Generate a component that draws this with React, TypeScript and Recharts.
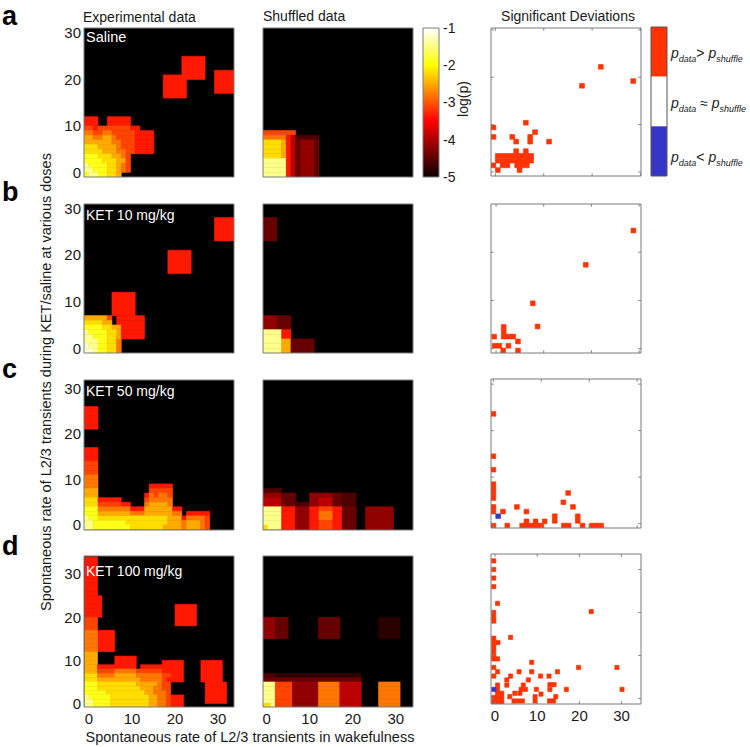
import React from 'react';
import { ComposedChart, XAxis, YAxis, ReferenceArea, ReferenceLine } from 'recharts';

const FONT = '"Liberation Sans", Arial, Helvetica, sans-serif';

// log(p) levels, coded by one letter each ('.' = below -5, black)
const LEVEL_CODES = 'hkedDmrRoOyYWw';
const LEVEL_VALUES = [-4.8, -4.6, -4.45, -4.2, -3.95, -3.7, -3.35, -3.1, -2.8, -2.5, -2.2, -1.9, -1.45, -1.2];

const AXIS_TICKS = [0, 10, 20, 30];
const CBAR_TICKS = [-1, -2, -3, -4, -5];
const CBAR_STOPS = [-1, -2, -3.5, -5];

// ---------- Experimental data (rows listed from top bin downwards, first char = bin x0) ----------
const EXP_SALINE_X0 = -1;
const EXP_SALINE_YTOP = 11;
const EXP_SALINE_ROWS = [
  'rrr..rrrrr',
  'rrr..rrrrr',
  'RRrRRRRRRRrr',
  'ooRRooRRRRRrrrr',
  'OOooOOoRRRRrrrr',
  'OOOOOOooRRRrrrr',
  'yyyOOOOoRRRrrrr',
  'yyyyOOOooRRrrrr',
  'YYYyyyOOoR',
  'YYYYyyyOOR',
  'WYYYYyyOoR',
  'WWYYYyyOoR',
  'YWWYYyyO',
];
const EXP_SALINE_BLOCKS: [number, number, number, number, string][] = [
  [16, 16, 5, 5, 'r'], [20, 20, 5, 5, 'r'], [27, 17, 5, 5, 'r'],
];

const EXP_K10_X0 = -1;
const EXP_K10_YTOP = 6;
const EXP_K10_ROWS = [
  'OOOOOR.rrrrrr',
  'yyyyOO.rrrrrr',
  'YYYYyyOOrrrrr',
  'WYYYYyyOrrrrr',
  'WWYYYyyOrrrrr',
  'WWWYYyyo',
  'wWWYYyyo',
  'wwWYYyyo',
];
const EXP_K10_BLOCKS: [number, number, number, number, string][] = [
  [5, 7, 5, 5, 'r'], [17, 16, 5, 5, 'r'], [27, 23, 5, 5, 'r'],
];

const EXP_K50_X0 = -1;
const EXP_K50_YTOP = 25;
const EXP_K50_ROWS = [
  'rrr', 'rrr', 'rrr', 'rrr', 'rrr',
  '', '', '', '',
  'rrr', 'rrr', 'rrr',
  'RRR', 'RRR', 'RRR',
  'ooo', 'ooo',
  'ooo' + '...........' + 'rrrrr',
  'OOO' + '...........' + 'RRRRR',
  'OOO' + '..........' + 'r' + 'oRooR',
  'yyy' + 'rrrrr' + '.....' + 'R' + 'ooooo',
  'yyy' + 'RRRRR' + 'rr' + '...' + 'o' + 'OOOOo',
  'YYY' + 'ooooo' + 'oo' + 'rrr' + 'O' + 'OOOOO' + 'rr',
  'YYY' + 'OOOOO' + 'OO' + 'ooo' + 'O' + 'OOOOO' + 'oo' + '.' + 'rrrrr',
  'WYY' + 'yyyyy' + 'yy' + 'yyy' + 'y' + 'yyyyO' + 'OO' + 'r' + 'ooooR',
  'WWY' + 'YYYYY' + 'Yy' + 'yyy' + 'y' + 'yyyyO' + 'OO' + 'o' + 'OOOoR',
  'WWY' + 'YYYYY' + 'YY' + 'yyy' + 'y' + 'yyyOO' + 'OO' + 'o' + 'OOOoR',
];
const EXP_K50_BLOCKS: [number, number, number, number, string][] = [];

const EXP_K100_X0 = -1;
const EXP_K100_YTOP = 33;
const EXP_K100_ROWS = [
  'rrr', 'rrr', 'rrr', 'rrr', 'rrr', 'rrr', 'rrr', 'rrr', 'rrr',
  'rrrr', 'rrrr', 'rrrr', 'rrrr', 'rrrr',
  'RRR', 'RRR', 'RRR',
  'ooo', 'ooo', 'ooo', 'ooo', 'ooo',
  'OOO', 'OOO', 'OOO',
  'OOO' + 'rrrr',
  'OOO' + 'RRRR' + 'ooooo' + 'R' + 'RRRRR' + 'rr',
  'yyy' + 'oooo' + 'OOOOO' + 'o' + 'ooooo' + 'RR',
  'yyy' + 'OOOO' + 'OOOOO' + 'O' + 'ooooo' + 'Rr',
  'YYY' + 'yyyy' + 'yyyyy' + 'O' + 'OOOOo' + 'RR',
  'YYY' + 'yyyy' + 'yyyyy' + 'y' + 'OOOoo' + 'RR',
  'YYY' + 'YYyy' + 'yyyyy' + 'y' + 'yOOoo' + 'oR',
  'WYY' + 'YYYy' + 'yyyyy' + 'y' + 'yyOOo' + 'oR',
  'WWY' + 'YYYy' + 'yyyyy' + 'y' + 'yyOOo' + 'oR',
  'WWY' + 'YYYy' + 'yyyyy' + 'y' + 'yyOOo' + 'oR',
];
const EXP_K100_BLOCKS: [number, number, number, number, string][] = [
  [2, 12, 4, 5, 'r'], [6, 8, 5, 3, 'r'], [12, 8, 5, 1, 'r'], [17, 5, 5, 5, 'r'],
  [20, 18, 5, 5, 'r'], [26, 5, 5, 5, 'r'], [27, 0, 5, 5, 'r'], [19, -1, 3, 3, 'r'],
];

// ---------- Shuffled data ----------
const SHUF_SALINE_X0 = -1;
const SHUF_SALINE_YTOP = 8;
const SHUF_SALINE_ROWS = [
  'RRRRRRR',
  'ooooorD' + 'kkkkk',
  'yyyyOrD' + 'eddde',
  'yyyyOrD' + 'eddde',
  'yyyyOrD' + 'eddde',
  'yyyyOrD' + 'eddde',
  'WWWWWrD' + 'eddde',
  'WWWWWrD' + 'eddde',
  'WWWWWrD' + 'eddde',
  'WWWWWrD' + 'eddde',
];

const SHUF_K10_X0 = -1;
const SHUF_K10_YTOP = 27;
const SHUF_K10_ROWS = [
  'eee', 'eee', 'eee', 'eee', 'eee',
  '', '', '', '', '', '', '', '', '', '', '', '', '', '', '', '',
  'dddeee', 'dddeee', 'dddeee',
  'WWWWrr', 'WWWWrr',
  'WWWWOOeeeee', 'WWWWOOeeeee', 'WWWWOOeeeee',
];

const SHUF_K50_X0 = -1;
const SHUF_K50_YTOP = 7;
const SHUF_K50_ROWS = [
  'kkkk',
  'dddd' + 'eee' + '...' + 'dd' + 'ddd' + 'ee' + 'kkk',
  'DDDD' + 'eee' + '...' + 'dd' + 'DDD' + 'ee' + 'kkk',
  'DDDD' + 'eee' + 'kkk' + 'dd' + 'DDD' + 'ee' + 'kkk',
  'WWWW' + 'rrr' + 'ddd' + 'rr' + 'RRR' + 'rr' + 'eee' + '..' + 'dddddd',
  'WWWW' + 'rrr' + 'ddd' + 'rr' + 'ooo' + 'rr' + 'eee' + '..' + 'dddddd',
  'WWWW' + 'rrr' + 'ddd' + 'rr' + 'ooo' + 'rr' + 'eee' + '..' + 'dddddd',
  'WWWW' + 'rrr' + 'ddd' + 'rr' + 'RRR' + 'rr' + 'eee' + '..' + 'dddddd',
  'yWWW' + 'rrr' + 'ddd' + 'rr' + 'RRR' + 'rr' + 'eee' + '..' + 'dddddd',
];

const SHUF_K100_X0 = -1;
const SHUF_K100_YTOP = 19;
const SHUF_K100_ROWS = [
  'ddd' + 'eee.' + '......' + 'eeeee' + '.....' + '....' + 'hhhhh',
  'ddd' + 'eee.' + '......' + 'eeeee' + '.....' + '....' + 'hhhhh',
  'ddd' + 'eee.' + '......' + 'eeeee' + '.....' + '....' + 'hhhhh',
  'ddd' + 'eee.' + '......' + 'eeeee' + '.....' + '....' + 'hhhhh',
  'ddd' + 'eee.' + '......' + 'eeeee' + '.....' + '....' + 'hhhhh',
  '', '', '', '', '', '', '', '',
  'kkk' + 'hhhh' + 'hhhhhh' + 'hhhhh' + 'hhhhh',
  'eee' + 'eeee' + 'eeeeee' + 'eeeee' + 'eeeee',
  'WWW' + 'RRRR' + 'dddddd' + 'ooooo' + 'DDDDD' + '....' + 'ooooo',
  'WWW' + 'RRRR' + 'dddddd' + 'ooooo' + 'DDDDD' + '....' + 'ooooo',
  'WWW' + 'RRRR' + 'dddddd' + 'ooooo' + 'DDDDD' + '....' + 'ooooo',
  'WWW' + 'RRRR' + 'dddddd' + 'ooooo' + 'DDDDD' + '....' + 'ooooo',
  'WWW' + 'RRRR' + 'dddddd' + 'ooooo' + 'DDDDD' + '....' + 'ooooo',
  'yyW' + 'RRRR' + 'dddddd' + 'ooooo' + 'DDDDD' + '....' + 'ooooo',
];

// ---------- Significant deviations (bin centres) ----------
const SIG_SALINE_UP = [
  [21.8, 22.2], [17.9, 18.2], [28.5, 19.2], [-0.4, 9.4], [-0.4, 7.4], [6.3, 10.4], [3.5, 7.4],
  [4.3, 6.4], [7.2, 7.4], [7.2, 6.4], [8.2, 8.4], [11.1, 6.4], [4.3, 4.4], [6.3, 4.4],
  [0.5, 3.4], [1.5, 3.4], [2.5, 3.4], [3.5, 3.4], [4.5, 3.4], [5.5, 3.4], [6.5, 3.4], [7.4, 3.4],
  [0.5, 2.4], [1.5, 2.4], [2.5, 2.4], [3.5, 2.4], [4.5, 2.4], [5.5, 2.4], [6.5, 2.4], [7.4, 2.4],
  [-0.4, 1.4], [1.5, 1.4], [2.5, 1.4], [4.5, 1.4], [5.5, 1.4], [6.5, 1.4],
  [0.5, 0.4], [5.0, 0.4],
];
const SIG_SALINE_DOWN: number[][] = [];

const SIG_K10_UP = [
  [28.8, 24.5], [18.8, 17.4], [7.7, 9.4], [8.7, 4.6],
  [1.6, 4.5], [1.6, 3.5], [1.6, 2.5], [2.6, 2.5], [3.6, 2.5],
  [-0.4, 2.5], [4.6, 1.5], [-0.3, 0.6], [0.7, 0.6], [2.6, 0.6], [1.5, -0.4], [4.6, -0.4],
];
const SIG_K10_DOWN: number[][] = [];

const SIG_K50_UP = [
  [0, 23.6], [0, 14.5], [0, 11.6], [0, 8.5], [0, 7.5], [0, 6.5], [0, 5.5], [0, 3.6], [0, 2.6],
  [2, 2.6], [0, -0.4], [2.9, -0.4], [4.9, 3.6], [6.9, 2.6],
  [6, -0.4], [7, -0.4], [8, -0.4], [9, -0.4], [10, -0.4], [6.9, 0.5], [8.8, 0.5], [10.7, 0.5],
  [12.8, 1.6], [12.8, 0.6], [14.6, 4.6], [15.6, 6.6], [16.6, 3.6], [17.6, 1.6], [17.6, 0.6],
  [14.7, -0.4], [15.7, -0.4], [18.6, -0.4], [20.5, -0.4], [21.5, -0.4], [22.5, -0.4],
];
const SIG_K50_DOWN = [[1, 1.6]];

const SIG_K100_UP = [
  [-0.3, 32], [-0.3, 30], [-0.3, 28], [-0.3, 26], [0.6, 22.1], [-0.3, 20], [-0.3, 19], [-0.3, 18],
  [3.7, 14.2], [-0.3, 14], [-0.3, 13], [-0.3, 12], [-0.3, 11], [-0.3, 10], [-0.3, 9.2], [0.7, 13],
  [0.6, 9.2], [-0.3, 7.2], [-0.3, 5.2], [0.6, 6.2], [8.7, 8.4], [5.7, 6.2], [8.7, 6.2], [3.7, 5.2],
  [10.8, 5.2], [12.8, 5.2], [14.8, 6.2], [19.8, 7.2], [28.9, 7.2], [7.9, 4.3], [2.8, 4.3], [2.8, 3.1],
  [6.7, 3.1], [6.2, 2.1], [7.2, 2.1], [4.7, 1.2], [9.8, 2.1], [10.9, 1], [13, 3.2], [14, 3.2], [13, 2.1],
  [16.9, 2.1], [30.1, 2.1], [22.8, 20.2],
  [0.6, 3.1], [0.6, 2.1], [0.6, 1.2], [1.6, 1.2], [-0.3, 0.2], [0.6, 0.2], [1.6, 0.2],
  [-0.3, -0.8], [0.6, -0.8], [1.6, -0.8],
  [4.5, -0.6], [5.5, -0.6], [6.5, -0.6], [3.5, 0.4], [5.9, 1.2], [9.5, 0.4], [9.5, -0.6],
  [12.9, -0.6], [13.9, -0.6], [14.4, 0.4],
];
const SIG_K100_DOWN = [[-0.3, 2.1]];

// legend of the deviation maps (top to bottom)
const SIG_COLORS = ['#ff3300', '#ffffff', '#3535c8'];
const SIG_LEVELS = [[2, 3], [1, 2], [0, 1]];

// ---------- helpers ----------
type Cell = { x1: number; x2: number; y1: number; y2: number; color: string };

function hot(v: number): string {
  const t = Math.max(0, Math.min(1, (v + 5) / 4));
  const r = Math.min(1, 0.04 + t / 0.375);
  const g = Math.max(0, Math.min(1, (t - 0.375) / 0.375));
  const b = Math.max(0, Math.min(1, (t - 0.75) / 0.25));
  return `rgb(${Math.round(r * 255)},${Math.round(g * 255)},${Math.round(b * 255)})`;
}

function codeColor(c: string): string {
  return hot(LEVEL_VALUES[LEVEL_CODES.indexOf(c)]);
}

function heatCells(x0: number, yTop: number, rows: string[], blocks: [number, number, number, number, string][]): Cell[] {
  const out: Cell[] = [];
  blocks.forEach(([x, y, w, h, c]) => out.push({ x1: x, x2: x + w, y1: y, y2: y + h, color: codeColor(c) }));
  rows.forEach((row, i) => {
    const y = yTop - i;
    let j = 0;
    while (j < row.length) {
      const c = row[j];
      let k = j;
      while (k + 1 < row.length && row[k + 1] === c) k++;
      if (c !== '.') out.push({ x1: x0 + j, x2: x0 + k + 1, y1: y, y2: y + 1, color: codeColor(c) });
      j = k + 1;
    }
  });
  return out;
}

function sigCells(up: number[][], down: number[][]): Cell[] {
  const out: Cell[] = [];
  up.forEach(([x, y]) => out.push({ x1: x - 0.5, x2: x + 0.5, y1: y - 0.5, y2: y + 0.5, color: SIG_COLORS[0] }));
  down.forEach(([x, y]) => out.push({ x1: x - 0.5, x2: x + 0.5, y1: y - 0.5, y2: y + 0.5, color: SIG_COLORS[2] }));
  return out;
}

const M = 8;
const YW = 40;
const XH = 26;
const tickStyle = { fontSize: 15, fill: '#1a1a1a', fontFamily: FONT };

type PanelProps = {
  left: number; top: number; w: number; h: number;
  xDomain: [number, number]; yDomain: [number, number];
  showX?: boolean; showY?: boolean; bg: string; cells: Cell[]; inTicks?: boolean;
};

function Panel(p: PanelProps) {
  const yw = p.showY ? YW : 0;
  const xh = p.showX ? XH : 0;
  const W = M + yw + p.w + M;
  const H = M + p.h + xh + M;
  const [xa, xb] = p.xDomain;
  const [ya, yb] = p.yDomain;
  const lx = (xb - xa) * 0.018;
  const ly = (yb - ya) * 0.018;
  const segs: { a: { x: number; y: number }; b: { x: number; y: number } }[] = [];
  if (p.inTicks) {
    AXIS_TICKS.forEach((t) => {
      if (t > xa && t < xb) {
        segs.push({ a: { x: t, y: ya }, b: { x: t, y: ya + ly } });
        segs.push({ a: { x: t, y: yb }, b: { x: t, y: yb - ly } });
      }
      if (t > ya && t < yb) {
        segs.push({ a: { x: xa, y: t }, b: { x: xa + lx, y: t } });
        segs.push({ a: { x: xb, y: t }, b: { x: xb - lx, y: t } });
      }
    });
  }
  return (
    <div style={{ position: 'absolute', left: p.left - yw - M, top: p.top - M }}>
      <ComposedChart width={W} height={H} margin={{ top: M, right: M, bottom: M, left: M }} data={[]}>
        <XAxis type="number" dataKey="x" domain={p.xDomain} allowDataOverflow hide={!p.showX} height={XH}
          ticks={AXIS_TICKS} interval={0} tickLine={false} axisLine={false} tickSize={0} tickMargin={6} tick={tickStyle} />
        <YAxis type="number" dataKey="y" domain={p.yDomain} allowDataOverflow hide={!p.showY} width={YW}
          ticks={AXIS_TICKS} interval={0} tickLine={false} axisLine={false} tickSize={0} tickMargin={3} tick={tickStyle} />
        <ReferenceArea x1={xa} x2={xb} y1={ya} y2={yb} fill={p.bg} fillOpacity={1} stroke="none" ifOverflow="hidden" />
        {p.cells.map((c, i) => (
          <ReferenceArea key={i} x1={c.x1} x2={c.x2} y1={c.y1} y2={c.y2} fill={c.color} fillOpacity={1}
            stroke={c.color} strokeWidth={0.6} ifOverflow="hidden" />
        ))}
        {segs.map((s, i) => (
          <ReferenceLine key={'t' + i} segment={[s.a, s.b]} stroke="#808080" strokeWidth={1} ifOverflow="visible" />
        ))}
        <ReferenceArea x1={xa} x2={xb} y1={ya} y2={yb} fill="none" fillOpacity={0} stroke="#7a7a7a" strokeWidth={1} ifOverflow="visible" />
      </ComposedChart>
    </div>
  );
}

function Txt(props: { x: number; y: number; size?: number; anchor?: 'start' | 'middle'; bold?: boolean; color?: string; rotate?: boolean; italic?: boolean; children: React.ReactNode }) {
  const size = props.size ?? 14;
  const base: React.CSSProperties = {
    position: 'absolute', whiteSpace: 'nowrap', fontFamily: FONT, fontSize: size, lineHeight: `${size}px`,
    fontWeight: props.bold ? 'bold' : 'normal', color: props.color ?? '#1a1a1a', fontStyle: props.italic ? 'italic' : 'normal',
  };
  if (props.rotate) {
    return <div style={{ ...base, left: props.x, top: props.y, transform: 'translate(-50%, -50%) rotate(-90deg)' }}>{props.children}</div>;
  }
  return (
    <div style={{ ...base, left: props.x, top: props.y - 0.8465 * size, transform: props.anchor === 'middle' ? 'translateX(-50%)' : undefined }}>
      {props.children}
    </div>
  );
}

const Sub = ({ children }: { children: React.ReactNode }) => (
  <span style={{ fontSize: 9, position: 'relative', top: 4 }}>{children}</span>
);

function ColorBar() {
  const stops = CBAR_STOPS.map((v) => ({ off: (-1 - v) / 4, color: hot(v) }));
  return (
    <div style={{ position: 'absolute', left: 423 - M, top: 28 - M }}>
      <ComposedChart width={M + 16 + 30 + M} height={M + 149 + M} margin={{ top: M, right: M, bottom: M, left: M }} data={[]}>
        <defs>
          <linearGradient id="hotGrad" x1="0" y1="0" x2="0" y2="1">
            {stops.map((s, i) => <stop key={i} offset={s.off} stopColor={s.color} />)}
          </linearGradient>
        </defs>
        <XAxis type="number" dataKey="x" domain={[0, 1]} allowDataOverflow hide />
        <YAxis type="number" dataKey="y" orientation="right" domain={[-5, -1]} allowDataOverflow width={30}
          ticks={CBAR_TICKS} interval={0} tickLine={false} axisLine={false} tickSize={0} tickMargin={4}
          tick={{ fontSize: 14, fill: '#1a1a1a', fontFamily: FONT }} />
        <ReferenceArea x1={0} x2={1} y1={-5} y2={-1} fill="url(#hotGrad)" fillOpacity={1} stroke="#7a7a7a" strokeWidth={1} ifOverflow="visible" />
      </ComposedChart>
    </div>
  );
}

function SigLegend() {
  return (
    <div style={{ position: 'absolute', left: 651 - M, top: 27 - M }}>
      <ComposedChart width={M + 16 + M} height={M + 149 + M} margin={{ top: M, right: M, bottom: M, left: M }} data={[]}>
        <XAxis type="number" dataKey="x" domain={[0, 1]} allowDataOverflow hide />
        <YAxis type="number" dataKey="y" domain={[0, 3]} allowDataOverflow hide />
        {SIG_LEVELS.map(([a, b], i) => (
          <ReferenceArea key={i} x1={0} x2={1} y1={a} y2={b} fill={SIG_COLORS[i]} fillOpacity={1} stroke="none" ifOverflow="hidden" />
        ))}
        <ReferenceArea x1={0} x2={1} y1={0} y2={3} fill="none" fillOpacity={0} stroke="#555" strokeWidth={1} ifOverflow="visible" />
      </ComposedChart>
    </div>
  );
}

export default function App() {
  const exp = { left: 84, w: 150 };
  const shuf = { left: 263, w: 150 };
  const sig = { left: 491, w: 150 };
  const dA: [number, number] = [-1, 31.1];
  const dB: [number, number] = [-1, 30.9];
  const dC: [number, number] = [-1.1, 31.8];
  const dD: [number, number] = [-0.8, 34.2];
  const xABC: [number, number] = [-1, 31.2];

  return (
    <div style={{ position: 'absolute', left: 0, top: 0, width: 750, height: 747, background: '#fff', overflow: 'hidden' }}>
      {/* Experimental */}
      <Panel {...exp} top={28} h={149} xDomain={xABC} yDomain={dA} showY bg="#000"
        cells={heatCells(EXP_SALINE_X0, EXP_SALINE_YTOP, EXP_SALINE_ROWS, EXP_SALINE_BLOCKS)} />
      <Panel {...exp} top={204} h={149} xDomain={xABC} yDomain={dB} showY bg="#000"
        cells={heatCells(EXP_K10_X0, EXP_K10_YTOP, EXP_K10_ROWS, EXP_K10_BLOCKS)} />
      <Panel {...exp} top={380} h={150} xDomain={xABC} yDomain={dC} showY bg="#000"
        cells={heatCells(EXP_K50_X0, EXP_K50_YTOP, EXP_K50_ROWS, EXP_K50_BLOCKS)} />
      <Panel {...exp} top={556} h={151} xDomain={[-1.15, 33.7]} yDomain={dD} showY showX bg="#000"
        cells={heatCells(EXP_K100_X0, EXP_K100_YTOP, EXP_K100_ROWS, EXP_K100_BLOCKS)} />

      {/* Shuffled */}
      <Panel {...shuf} top={28} h={149} xDomain={xABC} yDomain={dA} bg="#000"
        cells={heatCells(SHUF_SALINE_X0, SHUF_SALINE_YTOP, SHUF_SALINE_ROWS, [])} />
      <Panel {...shuf} top={204} h={149} xDomain={xABC} yDomain={dB} bg="#000"
        cells={heatCells(SHUF_K10_X0, SHUF_K10_YTOP, SHUF_K10_ROWS, [])} />
      <Panel {...shuf} top={380} h={150} xDomain={xABC} yDomain={dC} bg="#000"
        cells={heatCells(SHUF_K50_X0, SHUF_K50_YTOP, SHUF_K50_ROWS, [])} />
      <Panel {...shuf} top={556} h={151} xDomain={[-0.85, 34]} yDomain={dD} showX bg="#000"
        cells={heatCells(SHUF_K100_X0, SHUF_K100_YTOP, SHUF_K100_ROWS, [])} />

      {/* Significant deviations */}
      <Panel {...sig} top={28} h={148} xDomain={[-0.9, 30.1]} yDomain={[-0.85, 30.4]} bg="#fff" inTicks
        cells={sigCells(SIG_SALINE_UP, SIG_SALINE_DOWN)} />
      <Panel {...sig} top={204} h={149} xDomain={[-1.06, 30.4]} yDomain={[-0.9, 30]} bg="#fff" inTicks
        cells={sigCells(SIG_K10_UP, SIG_K10_DOWN)} />
      <Panel {...sig} top={379} h={149} xDomain={[-0.5, 30.8]} yDomain={[-0.93, 31.1]} bg="#fff" inTicks
        cells={sigCells(SIG_K50_UP, SIG_K50_DOWN)} />
      <Panel {...sig} top={554} h={150} xDomain={[-0.95, 34.6]} yDomain={[-1.3, 33.6]} bg="#fff" inTicks showX
        cells={sigCells(SIG_K100_UP, SIG_K100_DOWN)} />

      <ColorBar />
      <SigLegend />

      {/* texts */}
      <Txt x={2} y={25.5} size={27} bold color="#000">a</Txt>
      <Txt x={2} y={201.5} size={27} bold color="#000">b</Txt>
      <Txt x={2} y={379} size={27} bold color="#000">c</Txt>
      <Txt x={2} y={556} size={27} bold color="#000">d</Txt>

      <Txt x={83} y={21.5} size={14}>Experimental data</Txt>
      <Txt x={263} y={21} size={14}>Shuffled data</Txt>
      <Txt x={568} y={21} size={14} anchor="middle">Significant Deviations</Txt>

      <Txt x={86} y={42.5} size={14.5} color="#fff">Saline</Txt>
      <Txt x={86} y={220} size={14} color="#fff">KET 10 mg/kg</Txt>
      <Txt x={86} y={395.5} size={14} color="#fff">KET 50 mg/kg</Txt>
      <Txt x={86} y={576} size={14} color="#fff">KET 100 mg/kg</Txt>

      <Txt x={46} y={382} size={14.5} rotate>Spontaneous rate of L2/3 transients during KET/saline at various doses</Txt>
      <Txt x={250} y={742} size={14.5} anchor="middle">Spontaneous rate of L2/3 transients in wakefulness</Txt>
      <Txt x={462.5} y={99} size={14} rotate>log(p)</Txt>

      <Txt x={671} y={58} size={14} italic>p<Sub>data</Sub><span style={{ fontStyle: 'normal' }}>&gt; </span>p<Sub>shuffle</Sub></Txt>
      <Txt x={671} y={108} size={14} italic>p<Sub>data</Sub><span style={{ fontStyle: 'normal' }}> ≈ </span>p<Sub>shuffle</Sub></Txt>
      <Txt x={671} y={162} size={14} italic>p<Sub>data</Sub><span style={{ fontStyle: 'normal' }}>&lt; </span>p<Sub>shuffle</Sub></Txt>
    </div>
  );
}
